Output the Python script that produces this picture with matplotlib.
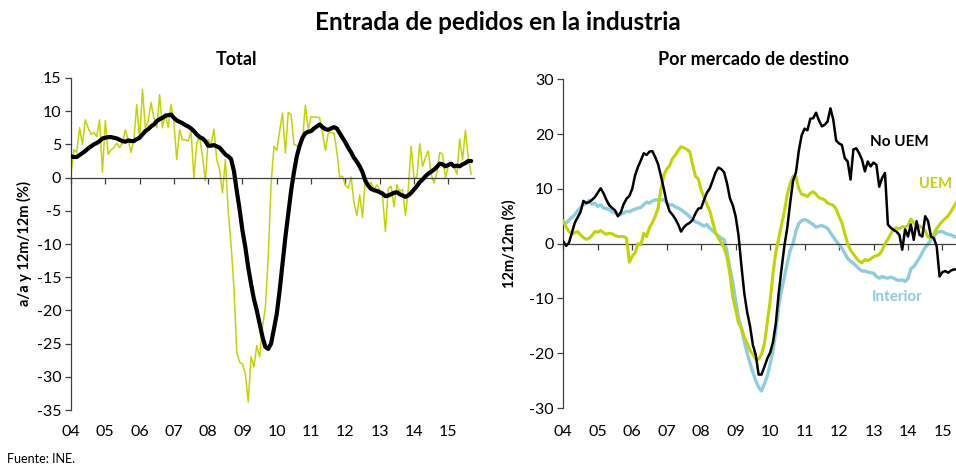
import numpy as np
import matplotlib
matplotlib.use("Agg")
import matplotlib.pyplot as plt
import matplotlib.transforms as mtransforms

plt.rcParams['font.family'] = ['Lato', 'DejaVu Sans']

# monthly series from Jan 2004
# Total: 12m/12m (thick black) and a/a (thin green)
total_12m = [3.2, 3.1, 3.1, 3.4, 3.7, 4.0, 4.4, 4.7, 5.0, 5.2, 5.5, 5.9,
             6.0, 6.1, 6.1, 6.0, 5.9, 5.7, 5.5, 5.4, 5.6, 5.5, 5.5, 5.8,
             6.0, 6.5, 7.0, 7.3, 7.7, 8.0, 8.5, 8.8, 9.0, 9.3, 9.4, 9.5,
             9.0, 8.6, 8.4, 8.2, 7.9, 7.7, 7.4, 7.0, 6.5, 6.1, 5.9, 5.5,
             4.8, 4.8, 4.9, 4.7, 4.5, 4.0, 3.5, 3.2, 2.8, 1.0, -2.0, -4.8,
             -8.0, -10.5, -13.5, -16.0, -18.3, -20.0, -22.0, -24.0, -25.5, -25.8, -25.0, -22.8,
             -20.5, -17.0, -13.0, -9.0, -5.5, -2.0, 0.8, 3.2, 4.8, 6.0, 6.7, 6.9,
             7.0, 7.4, 7.7, 8.0, 7.6, 7.3, 7.2, 7.4, 7.6, 7.4, 6.7, 6.0,
             5.3, 4.5, 3.8, 3.0, 2.4, 1.7, 0.8, -0.5, -1.2, -1.7, -1.9, -2.0,
             -2.2, -2.4, -2.8, -2.7, -2.5, -2.3, -2.2, -2.5, -2.7, -2.9, -2.7, -2.3,
             -1.8, -1.3, -0.7, -0.3, 0.2, 0.6, 0.9, 1.2, 1.6, 2.1, 2.0, 1.7,
             1.9, 2.1, 1.7, 1.8, 1.7, 2.0, 2.2, 2.5, 2.5]
total_aa = [0.7, 4.2, 3.8, 7.5, 5.0, 8.7, 7.5, 6.5, 6.8, 6.2, 8.7, 0.8,
            8.6, 3.5, 4.2, 4.5, 5.2, 4.5, 5.2, 7.2, 5.7, 3.8, 5.7, 11.0,
            5.7, 13.3, 7.5, 8.5, 11.3, 9.0, 7.5, 12.5, 7.5, 9.7, 7.5, 11.0,
            8.2, 2.7, 7.2, 5.7, 5.7, 5.5, 7.0, 0.0, 5.2, 6.2, 3.2, -0.5,
            5.7, 5.0, 7.3, 2.7, 1.2, -2.3, 2.7, -5.0, -10.0, -16.5, -26.3, -27.8,
            -28.1, -29.5, -33.8, -27.0, -28.5, -25.3, -27.0, -22.5, -19.5, -12.0, -1.0, 4.7,
            4.1, 7.0, 9.7, 3.7, 9.8, 9.5, 5.0, 4.8, 4.8, 5.7, 10.9, 7.2,
            9.2, 9.1, 9.1, 9.0, 6.7, 4.1, 6.7, 6.8, 6.7, 4.0, 0.1, 0.2,
            -1.2, -1.6, 0.1, -3.8, -5.7, -2.6, -6.0, 0.0, -1.3, -0.7, -1.8, -1.1,
            -1.8, -2.8, -8.1, -1.6, -1.3, -4.4, -1.1, -2.1, -1.8, -5.7, -1.8, 4.7,
            0.0, 0.0, 5.1, 1.7, 3.0, 4.0, 0.5, -0.8, 0.7, 3.8, 3.5, 0.0,
            1.7, 2.0, 1.7, 0.5, 5.8, 2.7, 7.1, 3.0, 0.5]

# Por mercado de destino (12m/12m)
no_uem = [0.4, -0.4, 0.2, 2.0, 3.8, 4.8, 5.8, 7.8, 7.4, 7.6, 8.0, 8.5,
          9.3, 10.1, 9.2, 8.0, 7.0, 6.5, 6.1, 5.0, 5.7, 7.2, 8.2, 8.7,
          10.0, 12.5, 14.0, 15.2, 16.5, 16.2, 16.8, 16.9, 15.8, 14.5, 12.3, 10.0,
          7.5, 5.9, 5.3, 4.5, 3.5, 2.2, 3.0, 3.5, 3.8, 4.3, 5.5, 6.4,
          6.5, 8.0, 9.3, 10.1, 11.5, 13.0, 13.9, 13.6, 13.0, 11.0, 8.3, 7.0,
          5.0, 1.5, -4.0, -9.0, -12.5, -15.0, -18.5, -20.3, -23.9, -23.9, -22.5, -21.0,
          -19.9, -18.0, -14.5, -9.0, -4.5, -0.3, 3.0, 7.5, 11.5, 13.0, 17.0, 19.8,
          21.0, 20.7, 22.8, 22.9, 23.9, 22.5, 21.4, 21.7, 22.3, 24.7, 22.6, 18.8,
          18.3, 18.0, 15.6, 15.0, 11.7, 17.2, 17.4, 16.5, 15.3, 13.2, 15.0, 14.1,
          14.8, 14.4, 10.4, 12.0, 12.9, 3.5, 2.9, 2.5, 2.2, 1.6, -1.1, 2.6,
          1.3, 3.5, 0.7, 4.1, 1.6, 1.3, 5.0, 4.1, 1.3, 1.0, -0.5, -6.0,
          -5.2, -5.0, -5.3, -4.9, -4.7, -4.7]
uem = [4.1, 3.0, 2.2, 1.7, 2.0, 2.2, 1.6, 1.1, 0.8, 1.0, 1.5, 2.2,
       2.1, 2.4, 2.0, 1.7, 1.9, 1.8, 1.5, 1.3, 1.3, 1.3, 1.0, -3.4,
       -2.3, -1.7, 0.0, -0.2, 1.9, 1.3, 2.9, 3.8, 5.0, 6.5, 10.0, 12.5,
       13.6, 14.2, 15.5, 16.2, 17.0, 17.7, 17.5, 17.2, 16.8, 14.5, 12.3, 11.8,
       9.8, 8.5, 7.1, 6.0, 4.0, 2.0, 1.0, 0.2, -0.8, -2.5, -5.5, -9.8,
       -12.0, -14.5, -15.4, -17.0, -18.2, -19.5, -20.2, -21.1, -21.1, -20.2, -18.3, -14.5,
       -10.5, -5.5, -1.5, 1.0, 3.5, 6.0, 9.0, 11.0, 12.3, 12.2, 10.0, 9.0,
       8.9, 8.6, 9.2, 9.5, 9.0, 8.4, 8.2, 8.0, 7.4, 7.2, 7.0, 6.3,
       5.0, 3.8, 1.8, 0.0, -1.2, -1.9, -2.6, -3.2, -3.5, -2.9, -3.1, -2.8,
       -2.4, -2.2, -2.0, -1.2, 0.0, 0.8, 1.8, 2.6, 2.9, 2.7, 3.1, 3.0,
       3.3, 4.5, 3.8, 3.4, 3.2, 2.9, 2.3, 1.2, 1.0, 1.8, 2.8, 3.5,
       4.1, 4.6, 5.1, 5.9, 6.8, 7.6]
interior = [3.8, 3.8, 4.3, 4.8, 5.3, 6.0, 6.6, 7.1, 7.4, 7.9, 7.2, 7.4,
            6.8, 7.1, 6.5, 6.4, 6.2, 5.8, 5.6, 5.3, 5.3, 5.6, 5.9, 5.8,
            6.1, 6.3, 6.5, 6.6, 7.1, 7.6, 7.4, 7.8, 8.0, 8.0, 8.0, 8.0,
            7.5, 7.0, 7.1, 6.7, 6.5, 6.2, 5.8, 5.4, 4.9, 4.4, 4.0, 3.8,
            3.5, 3.2, 3.5, 2.8, 2.4, 1.9, 1.4, 1.0, 0.7, -1.5, -4.5, -7.0,
            -10.5, -13.5, -15.5, -17.8, -20.0, -21.8, -23.5, -25.0, -26.2, -26.9, -25.6, -24.2,
            -22.0, -19.5, -16.0, -11.5, -8.5, -6.0, -3.5, -1.2, 0.1, 2.3, 3.7, 4.2,
            4.4, 4.2, 3.8, 3.5, 3.0, 3.2, 3.3, 3.1, 2.8, 2.0, 1.2, 0.5,
            -0.2, -0.8, -1.8, -2.7, -3.2, -3.6, -4.1, -4.6, -5.0, -5.0, -5.2, -5.3,
            -5.4, -6.0, -6.3, -6.0, -6.2, -6.3, -6.1, -6.3, -6.6, -6.7, -6.6, -6.9,
            -6.4, -4.6, -4.2, -3.4, -2.6, -1.6, -0.7, -0.1, 0.7, 1.3, 2.0, 2.2,
            2.2, 1.9, 1.7, 1.6, 1.3, 1.2]

years = list(range(2004, 2016))
year_labels = ['%02d' % (y % 100) for y in years]

GREEN = '#C3D400'
BLUE = '#8CCDE0'
W, H = 956, 465


def months(vals):
    return 2004 + np.arange(len(vals)) / 12.0


def style_axis(ax, ylim, yticks, label_drop):
    ax.set_xlim(2004, 2015.75)
    ax.set_ylim(*ylim)
    ax.set_yticks(yticks)
    ax.set_yticklabels([str(t) for t in yticks])
    for s in ['top', 'right']:
        ax.spines[s].set_visible(False)
    ax.spines['bottom'].set_position(('data', 0))
    for s in ['bottom', 'left']:
        ax.spines[s].set_color('#404040')
        ax.spines[s].set_linewidth(0.9)
    ax.set_xticks(years)
    ax.tick_params(axis='x', direction='out', length=4, width=0.9,
                   color='#404040', labelbottom=False)
    ax.tick_params(axis='y', direction='out', length=4, width=0.9,
                   color='#404040', labelsize=11.5, pad=3)
    # year labels under the plot area (the axis line sits at zero)
    trans = mtransforms.blended_transform_factory(ax.transData, ax.transAxes)
    trans = trans + mtransforms.ScaledTranslation(0, -label_drop / 100, fig.dpi_scale_trans)
    for y, lab in zip(years, year_labels):
        ax.text(y, 0, lab, transform=trans, ha='center', va='center',
                fontsize=11.5, clip_on=False)


fig = plt.figure(figsize=(W / 100, H / 100), dpi=100)

# left panel: Total
ax1 = fig.add_axes([71 / W, (H - 410) / H, 403 / W, 332 / H])
ax1.plot(months(total_aa), total_aa, color=GREEN, lw=1.1, zorder=2)
ax1.plot(months(total_12m), total_12m, color='black', lw=3.0,
         solid_capstyle='round', zorder=3)
style_axis(ax1, (-35, 15), list(range(-35, 16, 5)), 22)
ax1.set_ylabel('a/a y 12m/12m (%)', fontsize=10.5, fontweight='bold', labelpad=3)

# right panel: Por mercado de destino (runs past the image edge)
ax2 = fig.add_axes([563.3 / W, (H - 408) / H, 405 / W, 328.7 / H])
ax2.plot(months(interior), interior, color=BLUE, lw=2.4, zorder=2)
ax2.plot(months(uem), uem, color=GREEN, lw=2.2, zorder=3)
ax2.plot(months(no_uem), no_uem, color='black', lw=1.8, zorder=4)
style_axis(ax2, (-30, 30), list(range(-30, 31, 10)), 24)
ax2.set_ylabel('12m/12m (%)', fontsize=10.5, fontweight='bold', labelpad=9)

ax2.text(2012.9, 18.6, 'No UEM', color='black', fontsize=11,
         fontweight='bold', ha='left', va='center')
ax2.text(2014.33, 10.9, 'UEM', color=GREEN, fontsize=10.5,
         fontweight='bold', ha='left', va='center')
ax2.text(2012.95, -9.7, 'Interior', color=BLUE, fontsize=11,
         fontweight='bold', ha='left', va='center')

fig.text(498 / W, 1 - 22 / H, 'Entrada de pedidos en la industria',
         fontsize=17.5, fontweight='bold', ha='center', va='center')
fig.text(237 / W, 1 - 59 / H, 'Total', fontsize=13, fontweight='bold',
         ha='center', va='center')
fig.text(754 / W, 1 - 59 / H, 'Por mercado de destino', fontsize=13,
         fontweight='bold', ha='center', va='center')
fig.text(7 / W, 1 - 459 / H, 'Fuente: INE.', fontsize=9,
         ha='left', va='center')

fig.savefig('out.png', dpi=100)
